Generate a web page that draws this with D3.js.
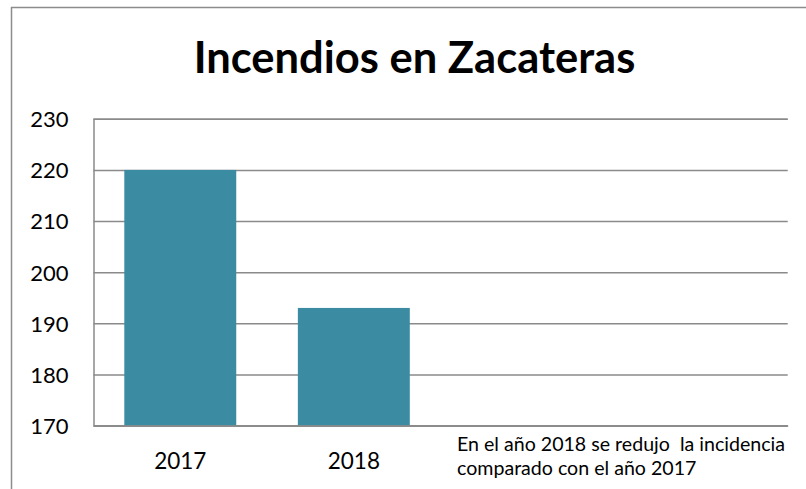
<!DOCTYPE html>
<html>
<head>
<meta charset="utf-8">
<script src="https://cdn.jsdelivr.net/npm/d3@7"></script>
<style>
  html, body { margin: 0; padding: 0; background: #fff; }
  svg { display: block; font-family: Lato, "Open Sans", sans-serif; }
</style>
</head>
<body>
<svg id="chart" width="806" height="489"></svg>
<script>
/* Incendios en Zacateras — bar chart */

const title = 'Incendios en Zacateras';
// four category slots as in the source sheet; the last two are empty
const categories = ['2017', '2018', '', ''];
const values = [220, 193, null, null];
const yTicks = [170, 180, 190, 200, 210, 220, 230];
const noteLines = ['En el año 2018 se redujo  la incidencia', 'comparado con el año 2017'];

const W = 806, H = 489;
const plot = { left: 93.5, right: 787.7, top: 118.8, bottom: 425.5 };
const GRID = '#8a8a8a';
const BAR = '#3b8ba3';

const svg = d3.select('#chart');

// outer chart frame (runs past the right/bottom of the capture)
svg.append('rect')
  .attr('x', 11.5).attr('y', 7.5)
  .attr('width', W).attr('height', H)
  .attr('fill', '#fff')
  .attr('stroke', '#8c8c8c')
  .attr('stroke-width', 1.5);

const x = d3.scaleBand()
  .domain(d3.range(categories.length))
  .range([plot.left, plot.right])
  .paddingInner(0.355)
  .paddingOuter(0.1775);

const y = d3.scaleLinear()
  .domain([170, 230])
  .range([plot.bottom, plot.top]);

// gridlines + y labels
const yAxis = d3.axisLeft(y)
  .tickValues(yTicks)
  .tickSize(-(plot.right - plot.left))
  .tickPadding(25)
  .tickFormat(d3.format('d'));

const gy = svg.append('g')
  .attr('transform', `translate(${plot.left},0)`)
  .call(yAxis);
gy.select('.domain').attr('stroke', GRID).attr('stroke-width', 1.5);
gy.selectAll('.tick line').attr('stroke', GRID).attr('stroke-width', 1.5);
gy.selectAll('.tick text')
  .attr('fill', '#000')
  .attr('font-size', 22)
  .attr('font-family', 'Lato, "Open Sans", sans-serif')
  .attr('dy', '0.36em');

// bars
svg.append('g')
  .selectAll('rect')
  .data(values.map((v, i) => ({ i, v })).filter(d => d.v != null))
  .join('rect')
  .attr('x', d => x(d.i))
  .attr('width', x.bandwidth())
  .attr('y', d => y(d.v))
  .attr('height', d => y(170) - y(d.v))
  .attr('fill', BAR);

// category axis
const xAxis = d3.axisBottom(x)
  .tickSize(0)
  .tickPadding(43)
  .tickFormat(i => categories[i]);

const gx = svg.append('g')
  .attr('transform', `translate(0,${plot.bottom})`)
  .call(xAxis);
gx.select('.domain').attr('stroke', GRID).attr('stroke-width', 1.5);
gx.selectAll('.tick text')
  .attr('fill', '#000')
  .attr('font-size', 22.5)
  .attr('font-family', 'Lato, "Open Sans", sans-serif')
  .attr('dy', 0);

// note text box under the empty slots
const note = svg.append('text')
  .attr('x', 457)
  .attr('y', 451)
  .attr('font-size', 19.6)
  .attr('fill', '#000');
note.selectAll('tspan')
  .data(noteLines)
  .join('tspan')
  .attr('x', 457)
  .attr('dy', (d, i) => i ? 24 : 0)
  .attr('xml:space', 'preserve')
  .text(d => d);

// title
svg.append('text')
  .attr('x', 414.5)
  .attr('y', 72.5)
  .attr('text-anchor', 'middle')
  .attr('font-size', 43.5)
  .attr('font-weight', 'bold')
  .attr('fill', '#000')
  .text(title);
</script>
</body>
</html>
